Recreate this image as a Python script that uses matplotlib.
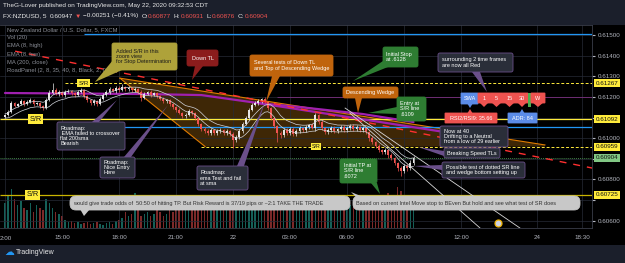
import numpy as np
import pandas as pd
import matplotlib
matplotlib.use("Agg")
import matplotlib.pyplot as plt
from matplotlib.patches import Polygon, FancyBboxPatch, Rectangle
from matplotlib.transforms import Affine2D, blended_transform_factory

plt.rcParams['font.family'] = ['Liberation Sans', 'DejaVu Sans']

# %%
# FX:NZDUSD, 10-minute bars from 12:00 (May 21) to 09:30 (May 22)
first_open = 0.61105
closes = [
    0.61112, 0.61127, 0.61170, 0.61156, 0.61165, 0.61180, 0.61165, 0.61175, 0.61185, 0.61165,
    0.61170, 0.61156, 0.61146, 0.61185, 0.61219, 0.61233, 0.61214, 0.61224, 0.61209, 0.61224,
    0.61228, 0.61219, 0.61209, 0.61224, 0.61233, 0.61204, 0.61185, 0.61170, 0.61180, 0.61165,
    0.61190, 0.61209, 0.61224, 0.61238, 0.61228, 0.61243, 0.61233, 0.61248, 0.61238, 0.61243,
    0.61233, 0.61238, 0.61224, 0.61194, 0.61214, 0.61224, 0.61209, 0.61219, 0.61204, 0.61190,
    0.61180, 0.61185, 0.61165, 0.61151, 0.61136, 0.61122, 0.61107, 0.61112, 0.61131, 0.61122,
    0.61097, 0.61068, 0.61044, 0.61034, 0.61025, 0.61039, 0.61025, 0.61034, 0.61039, 0.61025,
    0.61034, 0.61020, 0.60991, 0.61005, 0.61034, 0.61068, 0.61097, 0.61136, 0.61160, 0.61170,
    0.61180, 0.61190, 0.61175, 0.61146, 0.61097, 0.61059, 0.61025, 0.61015, 0.61039, 0.61025,
    0.61044, 0.61020, 0.61034, 0.61049, 0.61039, 0.61054, 0.61063, 0.61049, 0.61112, 0.61078,
    0.61049, 0.61030, 0.61039, 0.61049, 0.61034, 0.61044, 0.61054, 0.61039, 0.61049, 0.61059,
    0.61044, 0.61054, 0.61039, 0.61049, 0.61030, 0.61000, 0.60981, 0.60962, 0.60942, 0.60933,
    0.60942, 0.60918, 0.60903, 0.60879, 0.60855, 0.60840, 0.60865, 0.60855, 0.60879, 0.60904,
]
# wick lengths above / below the body, in points (0.00001)
wick_up = [
    6, 8, 12, 5, 7, 9, 6, 8, 10, 5,
    7, 5, 6, 12, 15, 34, 8, 10, 6, 9,
    12, 7, 5, 9, 10, 6, 5, 7, 8, 6,
    9, 8, 10, 9, 7, 12, 8, 14, 6, 9,
    7, 10, 6, 8, 9, 7, 8, 6, 7, 5,
    8, 6, 7, 5, 6, 8, 5, 9, 10, 6,
    5, 7, 6, 8, 9, 12, 6, 8, 10, 7,
    9, 6, 8, 10, 9, 12, 10, 9, 11, 8,
    10, 6, 9, 7, 6, 8, 7, 12, 9, 10,
    11, 8, 9, 10, 7, 9, 8, 10, 10, 6,
    8, 7, 9, 8, 10, 7, 9, 8, 10, 9,
    8, 10, 7, 9, 6, 7, 8, 6, 9, 7,
    10, 6, 8, 7, 6, 12, 9, 10, 14, 8,
]
wick_dn = [
    8, 6, 5, 7, 6, 5, 8, 6, 5, 7,
    6, 8, 10, 6, 5, 7, 6, 8, 5, 7,
    6, 8, 7, 6, 5, 9, 8, 7, 9, 8,
    6, 7, 5, 8, 6, 7, 9, 6, 8, 7,
    9, 7, 8, 12, 6, 7, 9, 6, 8, 7,
    8, 9, 7, 8, 9, 7, 10, 8, 6, 9,
    10, 8, 9, 10, 8, 9, 10, 8, 7, 9,
    10, 12, 39, 9, 7, 8, 6, 7, 5, 6,
    7, 8, 6, 9, 10, 12, 45, 14, 9, 10,
    8, 12, 9, 7, 10, 8, 9, 7, 12, 9,
    10, 9, 8, 10, 9, 8, 10, 7, 9, 8,
    10, 8, 9, 7, 10, 12, 9, 11, 10, 9,
    8, 12, 10, 11, 14, 24, 10, 12, 9, 8,
]
volume = [
    60, 80, 95, 70, 55, 65, 50, 45, 60, 40, 55, 50, 45,
    70, 60, 50, 40, 35, 30,
    20, 15, 18, 12, 15, 10, 12, 14, 10, 12, 15, 10, 8, 12, 15, 10, 18, 20,
    25, 40, 30, 35, 85, 45, 30, 35, 40, 30, 35, 45, 40, 30, 35, 50, 40, 45,
    55, 50, 60, 45, 70, 65, 55, 60, 50, 55, 65, 60, 50, 55, 60, 45, 65, 70,
    60, 70, 75, 65, 80, 60, 55, 70, 65, 75, 60, 70, 65, 60, 55, 65, 70, 60,
    55, 60, 65, 70, 60, 55, 65, 50, 60, 55, 70, 60, 55, 65, 60, 55, 60, 50,
    55, 60, 50, 65, 55, 60, 70, 65, 80, 75, 60, 70, 85, 65, 75, 100, 90, 70, 80, 60, 50,
]

# MA(200, close) read at a few bars
ma200_bars = [0, 44, 62, 80, 93, 113, 129]
ma200_vals = [0.61219, 0.61214, 0.61209, 0.61170, 0.61151, 0.61117, 0.61078]

# drawings: (bar, price)
down_tl = [(3.2, 0.61422), (185.4, 0.60855)]
wedge = [(36.3, 0.61291), (170.5, 0.60967), (170.5, 0.60959), (63.2, 0.60959)]
wedge_top = [(80, 0.61170), (137, 0.61034)]
speed_tl_a = [(108.9, 0.61122), (150.0, 0.60564)]
speed_tl_b = [(107.4, 0.61146), (162.6, 0.60564)]

# time axis
tick_bars = [0, 18, 36, 54, 72, 90, 108, 126, 144, 168, 182.2]
tick_labels = ['', '15:00', '18:00', '21:00', '22', '03:00', '06:00', '09:00',
               '12:00', '24', '18:30']

# %%
opens = [first_open] + closes[:-1]
o = np.array(opens)
c = np.array(closes)
hi = np.maximum(o, c) + np.array(wick_up) * 1e-5
lo = np.minimum(o, c) - np.array(wick_dn) * 1e-5
n = len(c)
xs = np.arange(n)
up = c >= o

W, H = 625, 263
fig = plt.figure(figsize=(6.25, 2.63), dpi=100, facecolor='#1b1f2b')
px = Affine2D().scale(1 / W, -1 / H).translate(0, 1) + fig.transFigure

fig.add_artist(Rectangle((0, 25), W, 220, transform=px, fc='#000000', ec='none', zorder=-1))

rect = [0, 35 / H, 592 / W, 203 / H]
axv = fig.add_axes(rect, zorder=0)
ax = fig.add_axes(rect, zorder=1)
xlim = (-5 / 3.1667, 587 / 3.1667)
ylim = (0.60564, 0.61549)

# volume, behind the price pane
axv.set_facecolor('#000000')
axv.bar(xs, volume, width=0.45, color=np.where(up, '#1f8a7e', '#b23b3b'), alpha=0.7, lw=0)
axv.set_xlim(xlim)
axv.set_ylim(0, 100 * 203 / 41)
axv.axis('off')

ax.set_facecolor('none')
ax.set_xlim(xlim)
ax.set_ylim(ylim)

# grid and axes
yt = np.round(np.arange(0.606, 0.6155, 0.001), 3)
ax.set_yticks(yt, ['' if v in (0.607, 0.609, 0.611) else f'{v:.5f}' for v in yt])
ax.set_xticks(tick_bars, tick_labels)
ax.yaxis.tick_right()
ax.tick_params(axis='y', length=2, pad=2, labelsize=4.5, colors='#b2b5be')
ax.tick_params(axis='x', length=0, pad=5, labelsize=4.5, colors='#b2b5be')
ax.grid(True, color='#262a36', lw=0.5, zorder=0)
for s in ax.spines.values():
    s.set_color('#3a3e4a')
    s.set_linewidth(0.6)
ax.spines['left'].set_visible(False)

# descending wedge
ax.add_patch(Polygon(wedge, closed=True, fc='#4a2e08', ec='none', alpha=0.85, zorder=1))
ax.plot([wedge[0][0], wedge[1][0]], [wedge[0][1], wedge[1][1]], color='#e07b00', lw=0.8, zorder=2)
ax.plot([wedge[0][0], wedge[3][0]], [wedge[0][1], wedge[3][1]], color='#e07b00', lw=0.8, zorder=2)

# horizontal levels
ax.hlines(0.61505, 25, xlim[1], color='#2196f3', lw=0.9, zorder=2)
ax.hlines(0.61052, 25, xlim[1], color='#2196f3', lw=0.9, zorder=2)
ax.hlines(0.61200, 86, xlim[1], color='#7b2f7f', lw=0.6, zorder=2)
ax.hlines(0.61267, 19, xlim[1], color='#ffeb3b', lw=0.7, ls=(0, (3, 2)), zorder=2)
ax.hlines(0.61092, xlim[0], xlim[1], color='#ffeb3b', lw=0.9, zorder=2)
ax.hlines(0.60959, 62, xlim[1], color='#ffeb3b', lw=0.7, ls=(0, (3, 2)), zorder=2)
ax.hlines(0.60904, xlim[0], xlim[1], color='#3f7f46', lw=0.7, ls=(0, (1, 1)), zorder=2)
ax.hlines(0.60725, xlim[0], xlim[1], color='#c9b400', lw=0.9, zorder=2)

# MA 200 and purple wedge top
ax.plot(ma200_bars, ma200_vals, color='#a020b0', lw=1.6, zorder=2.5, solid_capstyle='round')
ax.plot(*zip(*wedge_top), color='#a020b0', lw=1.6, zorder=2.5)

# candles
col = np.where(up, '#e6e6e6', '#ef5350')
ax.vlines(xs, lo, hi, color=col, lw=0.5, zorder=3)
ax.bar(xs, np.maximum(np.abs(c - o), 0.000015), bottom=np.minimum(o, c), width=0.6,
       color=col, lw=0, zorder=3)

# EMA(8) of highs and lows
ema_h = pd.Series(hi).ewm(span=8, adjust=False).mean()
ema_l = pd.Series(lo).ewm(span=8, adjust=False).mean()
ax.plot(xs, ema_h, color='#d1d4dc', lw=0.5, zorder=4)
ax.plot(xs, ema_l, color='#d1d4dc', lw=0.5, zorder=4)

# trend lines
ax.plot(*zip(*down_tl), color='#ff3030', lw=1.0, ls=(0, (5, 5)), zorder=5)
ax.plot(*zip(*speed_tl_a), color='#d8d8d8', lw=0.6, zorder=5)
ax.plot(*zip(*speed_tl_b), color='#d8d8d8', lw=0.6, zorder=5)
ax.plot([155.7], [0.60588], 'o', ms=5, mfc='#d0d4e0', mec='#f0b400', mew=0.9, zorder=6, clip_on=False)

# S/R tags on the chart
for bx, lvl, fs in [(9.6, 0.61092, 5.3), (24.8, 0.61267, 4.4), (98.2, 0.60959, 3.8), (8.7, 0.60725, 5.3)]:
    ax.text(bx, lvl, 'S/R', ha='center', va='center', fontsize=fs, color='#111111', zorder=7,
            bbox=dict(boxstyle='square,pad=0.2', fc='#ffeb3b', ec='none'))

# price axis tags
tr = blended_transform_factory(ax.transAxes, ax.transData)
for lvl, fc in [(0.61267, '#ffeb3b'), (0.61092, '#ffeb3b'), (0.60959, '#ffeb3b'),
                (0.60904, '#81c784'), (0.60725, '#ffeb3b')]:
    ax.text(1.006, lvl, f'{lvl:.5f}', transform=tr, ha='left', va='center', fontsize=4.5,
            color='#111111', clip_on=False, zorder=8,
            bbox=dict(boxstyle='square,pad=0.25', fc=fc, ec='none'))

# first time label is cut by the left edge in the reference
fig.text(0, 238, '2:00', transform=px, fontsize=4.5, color='#b2b5be', ha='left', va='center')

# %%
# header, legend and footer text
fig.text(3, 6, 'TheG-Lover published on TradingView.com, May 22, 2020 09:32:53 CDT',
         transform=px, fontsize=4.6, color='#e8e8e8', va='center')

renderer = fig.canvas.get_renderer()
x = 3
for s, cl, gap in [('FX:NZDUSD, 5', '#e8e8e8', 3), ('0.60947', '#e8e8e8', 2), ('▼', '#ef5350', 2),
                   ('\u22120.00251 (\u22120.41%)', '#e8e8e8', 3), ('O:', '#e8e8e8', 0),
                   ('0.60877', '#ef5350', 3), ('H:', '#e8e8e8', 0), ('0.60931', '#ef5350', 3),
                   ('L:', '#e8e8e8', 0), ('0.60876', '#ef5350', 3), ('C:', '#e8e8e8', 0),
                   ('0.60904', '#ef5350', 0)]:
    t = fig.text(x, 16, s, transform=px, fontsize=4.6, color=cl, va='center',
                 family=['Liberation Sans', 'DejaVu Sans'])
    x += t.get_window_extent(renderer).width + gap

legend_lines = ['New Zealand Dollar / U.S. Dollar, 5, FXCM', 'Vol (20)', 'EMA (8, high)',
                'EMA (8, low)', 'MA (200, close)', 'RoadPanel (2, 8, 35, 40, 8, Black, 2, 0, 24)']
for k, s in enumerate(legend_lines):
    fig.text(7, 29.5 + k * 8.2, s, transform=px, fontsize=4.2, color='#8a8d96', va='center', zorder=9)

fig.text(4, 252, '\u2601', transform=px, fontsize=7, color='#2196f3', va='center', family='DejaVu Sans')
fig.text(16, 252, 'TradingView', transform=px, fontsize=5, color='#e8e8e8', va='center')


# %%
# callouts, drawn in reference pixel coordinates
def callout(x0, y0, x1, y1, text, fc, tc='white', ec=None, tip=None, fs=4.0, center=False, r=2):
    if tip:
        fig.add_artist(Polygon(tip, closed=True, transform=px, fc=ec or fc, ec='none', zorder=19))
    fig.add_artist(FancyBboxPatch((x0, y0), x1 - x0, y1 - y0, transform=px,
                                  boxstyle=f'round,pad=0,rounding_size={r}',
                                  fc=fc, ec=ec or fc, lw=0.6, zorder=20))
    if center:
        fig.text((x0 + x1) / 2, (y0 + y1) / 2, text, transform=px, ha='center', va='center',
                 fontsize=fs, color=tc, zorder=21, linespacing=1.05)
    else:
        fig.text(x0 + 3.5, (y0 + y1) / 2, text, transform=px, ha='left', va='center',
                 fontsize=fs, color=tc, zorder=21, linespacing=1.05)


dark, edge = '#2a2e39', '#6a4f8a'
green, orange = '#2e7d32', '#c0640c'

callout(112, 43, 177, 70, 'Added S/R in this\nzoom view\nfor Stop Determination', '#aea23a',
        tc='#1a1a1a', tip=[(113, 60), (122, 70), (95, 82)])
callout(187, 50, 218, 66, 'Down TL', '#8b1c1c', tip=[(195, 66), (203, 66), (192, 80)], center=True)
callout(250, 55, 333, 76, 'Several tests of Down TL\nand Top of Descending Wedge', orange,
        tip=[(272, 76), (280, 76), (266, 102)])
callout(383, 47, 418, 67, 'Initial Stop\nat .6128', green, tip=[(383, 61), (388, 67), (353, 81)])
callout(343, 87, 398, 98, 'Descending Wedge', orange, tip=[(355, 98), (362, 98), (358, 113)], center=True)
callout(397, 97, 426, 121, 'Entry at\nS/R line\n.6109', green, tip=[(397, 107), (397, 114), (368, 113)])
callout(438, 53, 513, 72, 'surrounding 2 time frames\nare now all Red', dark, ec=edge,
        tip=[(472, 72), (480, 72), (487, 92)])
callout(440, 126, 508, 147, 'Now at 40\nDrifting to a Neutral\nfrom a low of 29 earlier', dark, ec=edge)
callout(444, 148, 500, 158, 'Breaking Speed TLs', dark, ec=edge,
        tip=[(444, 151), (444, 156), (418, 147)], center=True)
callout(442, 162, 525, 178, 'Possible test of dotted SR line\nand wedge bottom setting up', dark, ec=edge,
        tip=[(442, 165), (442, 170), (414, 166)])
callout(340, 159, 377, 183, 'Initial TP at\nS/R line\n.6072', green, tip=[(371, 183), (377, 183), (380, 194)])
callout(57, 122, 125, 150, 'Roadmap:\n EMA failed to crossover\nflat 200sma\nBearish', dark, ec=edge,
        tip=[(92, 122), (99, 122), (117, 100)])
callout(100, 157, 135, 178, 'Roadmap:\nNice Entry\nHere', dark, ec=edge,
        tip=[(124, 157), (131, 157), (168, 105)])
callout(197, 166, 248, 190, 'Roadmap:\nema Test and fail\nat sma', dark, ec=edge,
        tip=[(237, 166), (244, 166), (265, 102)])
callout(70, 196, 350, 210,
        'would give trade odds of  50:50 of hitting TP. But Risk Reward is 37/19 pips or ~2:1 TAKE THE TRADE',
        '#c8c8c8', tc='#333333', tip=[(80, 209), (90, 209), (84, 216)], r=6)
callout(353, 196, 580, 210,
        'Based on current Intel Move stop to BEven But hold and see what test of SR does',
        '#c8c8c8', tc='#333333', tip=[(356, 197), (363, 197), (351, 192)], r=6)

# RoadPanel
blue_p, red_p = '#5b8ce8', '#ef5350'
callout(461, 93, 478, 104, 'SWA', blue_p, tip=[(467, 103), (473, 103), (470, 108)], center=True, r=0.5)
for lab, xa, xb in [('1', 478, 490), ('5', 490, 503), ('15', 503, 516), ('30', 516, 528)]:
    callout(xa, 93, xb, 103, lab, red_p, tip=[(xa + 1, 102), (xb - 1, 102), ((xa + xb) / 2, 107)],
            center=True, r=0.5)
fig.add_artist(Rectangle((528, 93), 3, 14, transform=px, fc='#4caf50', ec='none', zorder=20))
callout(531, 93, 545, 103, 'W', red_p, tip=[(532, 102), (544, 102), (538, 107)], center=True, r=0.5)
callout(445, 113, 497, 123, 'RSI2/RSI9: 35.66', red_p, tip=[(467, 114), (473, 114), (470, 109)],
        center=True, r=0.5)
callout(508, 113, 537, 123, 'ADR: 84', blue_p, tip=[(519, 114), (525, 114), (522, 109)],
        center=True, r=0.5)

plt.savefig('out.png', dpi=100, facecolor=fig.get_facecolor())
